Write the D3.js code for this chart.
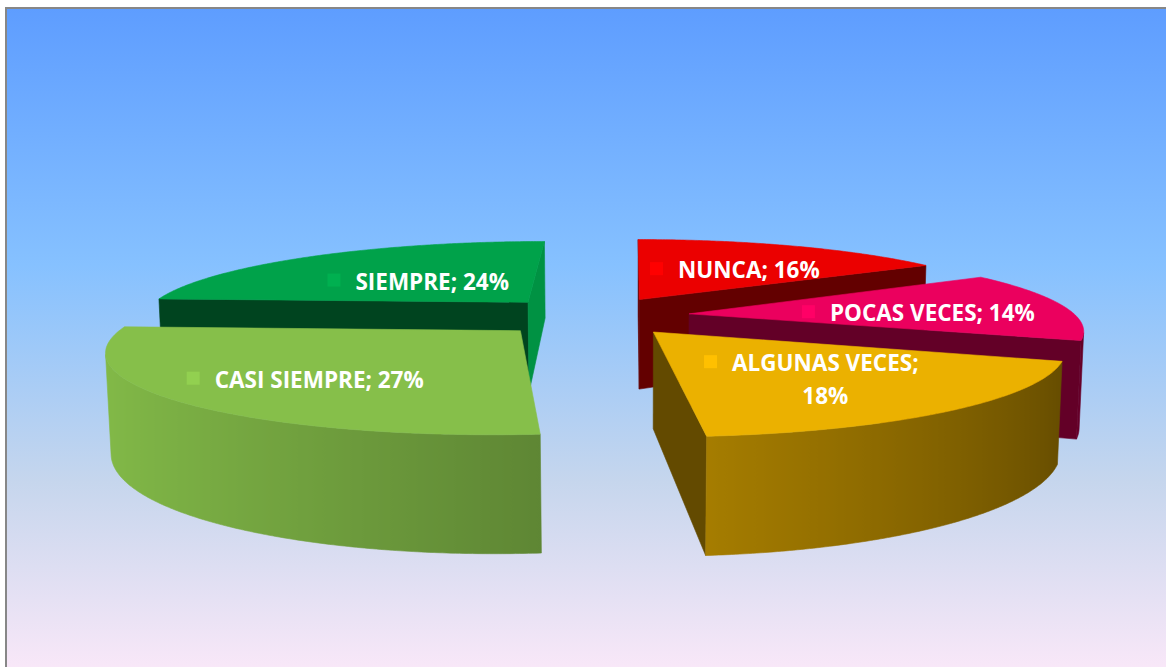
<!DOCTYPE html>
<html>
<head>
<meta charset="utf-8">
<script src="https://cdn.jsdelivr.net/npm/d3@7"></script>
<style>
  body { margin: 0; background: #fff; }
  svg { display: block; }
</style>
</head>
<body>
<div id="chart"></div>
<script>
// slices, clockwise from 12 o'clock
var categories = ["NUNCA", "POCAS VECES", "ALGUNAS VECES", "CASI SIEMPRE", "SIEMPRE"];
var values = [16, 14, 18, 27, 24];
var colors = ["#ff0000", "#ff0066", "#ffc000", "#92d050", "#00b050"];

var width = 1166, height = 667;

// 3d view of the exploded pie
var R = 387, T = 96, E = 98;
var camL = 1960, tilt = Math.asin(0.2), vx = 632, vy = 316, shiftX = -40;
var sinT = Math.sin(tilt), cosT = Math.cos(tilt);

// label placement (fraction of radius + small nudges), wrapped labels
var labelR = 0.55;
var labelNudge = [[5, 2], [22, 4], [6, 8], [-40, 13], [15, 6]];
var labelWrap = [false, false, true, false, false];

function project(x, y, z) {
  var X = x + shiftX;
  var depth = camL - y * sinT - z * cosT;
  return [vx + camL * X / depth, vy - camL * (y * cosT - z * sinT) / depth];
}

// is a face with horizontal normal (nx, nz) through point (px, pz) facing the camera
function facing(nx, nz, px, pz) {
  return nx * (-shiftX - px) + nz * (camL * cosT - pz) > 0;
}

function shade(c, k) {
  var r = d3.rgb(c);
  return d3.rgb(r.r * k, r.g * k, r.b * k).formatHex();
}

var svg = d3.select("#chart").append("svg")
    .attr("width", width)
    .attr("height", height);

var defs = svg.append("defs");

var bg = defs.append("linearGradient")
    .attr("id", "bg")
    .attr("x1", 0).attr("y1", 0).attr("x2", 0).attr("y2", 1);
[[0, "#5e9dff"], [0.38, "#86c1ff"], [0.7, "#c6d6ed"], [1, "#fde9f9"]].forEach(function(s) {
  bg.append("stop").attr("offset", s[0]).attr("stop-color", s[1]);
});

svg.append("rect")
    .attr("x", 6).attr("y", 8)
    .attr("width", width + 10).attr("height", height + 10)
    .attr("fill", "url(#bg)")
    .attr("stroke", "#878787")
    .attr("stroke-width", 2);

var arcs = d3.pie().sort(null).value(function(d) { return d; })(values);

var slices = arcs.map(function(a, i) {
  var mid = (a.startAngle + a.endAngle) / 2;
  return {
    i: i, a0: a.startAngle, a1: a.endAngle, mid: mid,
    ax: E * Math.sin(mid), az: -E * Math.cos(mid),
    top: shade(colors[i], 0.92)
  };
});

function rim(s, t, y) {
  return project(s.ax + R * Math.sin(t), y, s.az - R * Math.cos(t));
}
function apex(s, y) {
  return project(s.ax, y, s.az);
}
function angles(a0, a1, stepDeg) {
  var n = Math.max(2, Math.ceil((a1 - a0) / (stepDeg * Math.PI / 180)));
  return d3.range(n + 1).map(function(k) { return a0 + (a1 - a0) * k / n; });
}

var line = d3.line();
var order = slices.slice().sort(function(a, b) {
  return (a.az - Math.cos(a.mid) * R * 0.5) - (b.az - Math.cos(b.mid) * R * 0.5);
});

var pieG = svg.append("g");

order.forEach(function(s) {
  var g = pieG.append("g");

  // flat cut faces at start and end angle
  [[s.a0, -1], [s.a1, 1]].forEach(function(f) {
    var t = f[0];
    var nx = f[1] * Math.cos(t), nz = f[1] * Math.sin(t);
    if (!facing(nx, nz, s.ax, s.az)) return;
    var k = 0.42 + 0.48 * Math.max(0, nx - nz);
    g.append("path")
        .attr("d", line([apex(s, 0), rim(s, t, 0), rim(s, t, -T), apex(s, -T)]) + "Z")
        .attr("fill", shade(s.top, k))
        .attr("stroke", shade(s.top, k))
        .attr("stroke-width", 0.6)
        .attr("stroke-linejoin", "round");
  });

  // curved outer side, visible part only
  var vis = angles(s.a0, s.a1, 0.5).filter(function(t) {
    return facing(Math.sin(t), -Math.cos(t), s.ax + R * Math.sin(t), s.az - R * Math.cos(t));
  });
  if (vis.length > 1) {
    var topPts = vis.map(function(t) { return rim(s, t, 0); });
    var botPts = vis.map(function(t) { return rim(s, t, -T); }).reverse();
    var xs = topPts.map(function(p) { return p[0]; });
    var x0 = d3.min(xs), x1 = d3.max(xs);
    var gid = "side" + s.i;
    var grad = defs.append("linearGradient")
        .attr("id", gid)
        .attr("gradientUnits", "userSpaceOnUse")
        .attr("x1", x0).attr("y1", 0).attr("x2", x1).attr("y2", 0);
    var stops = vis.map(function(t, k) {
      var b = 0.686 - 0.284 * Math.sin(t) - 0.044 * Math.cos(t);
      return [(xs[k] - x0) / Math.max(1, x1 - x0), shade(s.top, b)];
    }).sort(function(a, b) { return a[0] - b[0]; });
    stops.forEach(function(st) {
      grad.append("stop").attr("offset", st[0]).attr("stop-color", st[1]);
    });
    g.append("path")
        .attr("d", line(topPts.concat(botPts)) + "Z")
        .attr("fill", "url(#" + gid + ")")
        .attr("stroke", "url(#" + gid + ")")
        .attr("stroke-width", 0.6);
  }

  // top face
  var topFace = [apex(s, 0)].concat(angles(s.a0, s.a1, 0.5).map(function(t) { return rim(s, t, 0); }));
  g.append("path")
      .attr("d", line(topFace) + "Z")
      .attr("fill", s.top)
      .attr("stroke", s.top)
      .attr("stroke-width", 0.6);
});

// data labels with legend keys
var keySize = 13, keyGap = 15, lineH = 33, fontSize = 22.5;
var labelG = svg.append("g")
    .attr("font-family", "'Open Sans', 'DejaVu Sans', sans-serif")
    .attr("font-weight", "bold")
    .attr("font-size", fontSize)
    .attr("fill", "#fff");

slices.forEach(function(s) {
  var i = s.i;
  var r = labelR * R;
  var c = project(s.ax + r * Math.sin(s.mid), 0, s.az - r * Math.cos(s.mid));
  var cx = c[0] + labelNudge[i][0], cy = c[1] + labelNudge[i][1];
  var full = categories[i] + "; " + values[i] + "%";
  var lines = labelWrap[i] ? [categories[i] + ";", values[i] + "%"] : [full];

  var g = labelG.append("g");
  var first = g.append("text").text(lines[0]);
  var w = first.node().getComputedTextLength();
  var blockW = keySize + keyGap + w;
  var left = cx - blockW / 2;
  var base = cy + 8 - (lines.length - 1) * lineH / 2;
  first.attr("x", left + keySize + keyGap).attr("y", base);

  g.append("rect")
      .attr("x", left).attr("y", base - 16)
      .attr("width", keySize).attr("height", keySize)
      .attr("fill", colors[i]);

  for (var k = 1; k < lines.length; k++) {
    g.append("text")
        .attr("x", left + keySize + keyGap + w / 2)
        .attr("y", base + k * lineH)
        .attr("text-anchor", "middle")
        .text(lines[k]);
  }
});
</script>
</body>
</html>
